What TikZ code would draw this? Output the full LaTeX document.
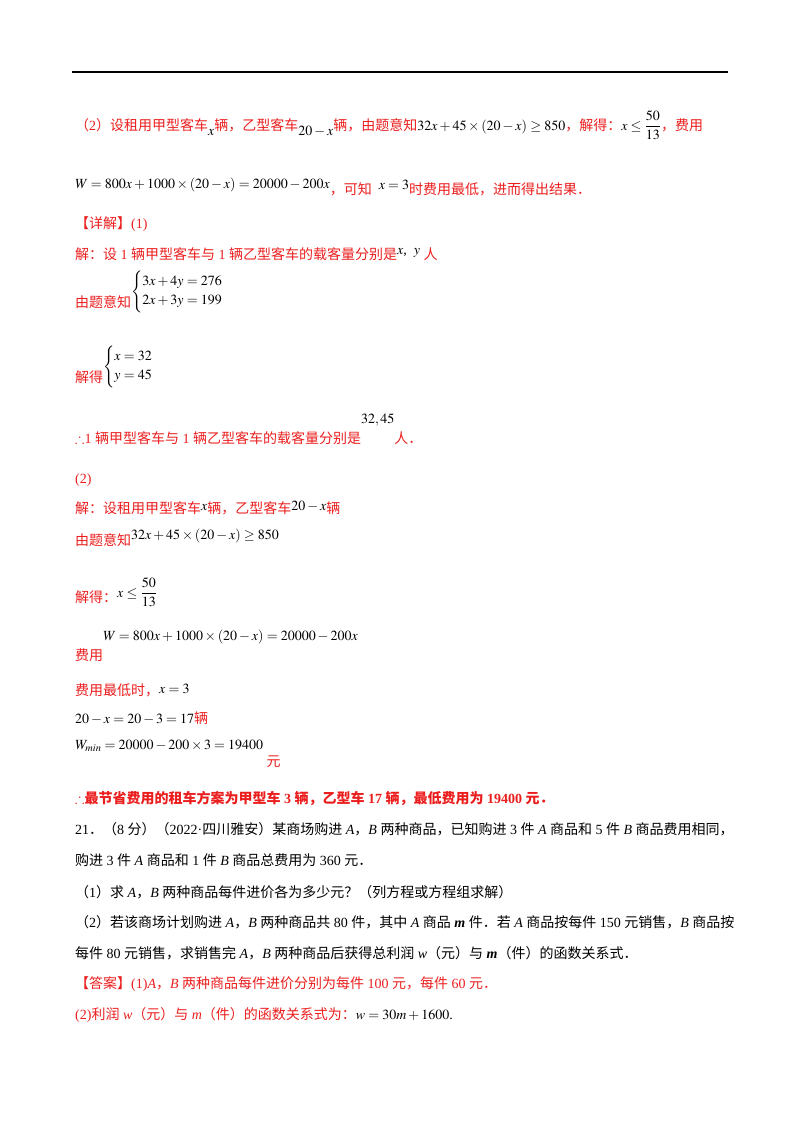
\documentclass[tikz,border=0pt]{standalone}
\usepackage{amsmath,amssymb}
\usepackage{mathptmx}
\usepackage{fontspec}
\setmainfont{Liberation Serif}
\newfontfamily\cjk{Noto Sans CJK SC}
\XeTeXinterchartokenstate=1
\newXeTeXintercharclass\cjkcls
\newXeTeXintercharclass\pctcls
\count255="3000 \loop \XeTeXcharclass\count255=\pctcls \ifnum\count255<"303F \advance\count255 1 \repeat
\count255="4E00 \loop \XeTeXcharclass\count255=\cjkcls \ifnum\count255<"9FFF \advance\count255 1 \repeat
\count255="FF00 \loop \XeTeXcharclass\count255=\pctcls \ifnum\count255<"FFEF \advance\count255 1 \repeat
\XeTeXinterchartoks 0 \cjkcls = {\hskip0.25em\begingroup\cjk}
\XeTeXinterchartoks 4095 \cjkcls = {\begingroup\cjk}
\XeTeXinterchartoks \cjkcls 0 = {\endgroup\hskip0.25em}
\XeTeXinterchartoks \cjkcls 4095 = {\endgroup}
\XeTeXinterchartoks 0 \pctcls = {\begingroup\cjk}
\XeTeXinterchartoks 4095 \pctcls = {\begingroup\cjk}
\XeTeXinterchartoks \pctcls 0 = {\endgroup}
\XeTeXinterchartoks \pctcls 4095 = {\endgroup}
\definecolor{rd}{RGB}{235,30,30}
\newcommand\gsp{\hskip0.25em}
\newcommand\iA{\textit{A}}
\newcommand\iB{\textit{B}}
\tikzset{ln/.style={anchor=base west,inner sep=0pt,font=\fontsize{14}{16}\selectfont}}
\begin{document}
\begin{tikzpicture}[x=1pt,y=-1pt]
\useasboundingbox (0,0) rectangle (800,1132);
\draw[line width=1.5pt] (72,72) coordinate(r1) -- (728,72) coordinate(r2);
\node[ln,text=rd] (l1) at (75,130) {（2）设租用甲型客车\raisebox{-5pt}{\color{black}$x$}辆，乙型客车\raisebox{-5pt}{\color{black}$20-x$}辆，由题意知{\color{black}$32x+45\times\left(20-x\right)\geq 850$}，解得：{\color{black}$x\leq\dfrac{50}{13}$}，费用};
\node[ln] (l2) at (75,188) {$W=800x+1000\times\left(20-x\right)=20000-200x$\raisebox{-6pt}{\color{rd}，可知}\ \ \raisebox{-1pt}{$x=3$}\raisebox{-6pt}{\color{rd}时费用最低，进而得出结果．}};
\node[ln,text=rd] (l3) at (75,228) {【详解】(1)};
\node[ln,text=rd] (l4) at (75,259) {解：设1辆甲型客车与1辆乙型客车的载客量分别是\raisebox{5pt}{\color{black}$x$,\ \ $y$}\ 人};
\node[ln,text=rd] (l5) at (75,307) {由题意知\raisebox{12pt}{\color{black}$\begin{cases}3x+4y=276\\2x+3y=199\end{cases}$}};
\node[ln,text=rd] (l6) at (75,382) {解得\raisebox{12pt}{\color{black}$\begin{cases}x=32\\y=45\end{cases}$}};
\node[ln,text=rd] (l7) at (75,443) {$\therefore$1辆甲型客车与1辆乙型客车的载客量分别是\raisebox{20pt}{\color{black}$32,45$}人．};
\node[ln,text=rd] (l8) at (75,483) {(2)};
\node[ln,text=rd] (l9) at (75,513) {解：设租用甲型客车\raisebox{3pt}{\color{black}$x$}辆，乙型客车\raisebox{3pt}{\color{black}$20-x$}辆};
\node[ln,text=rd] (l10) at (75,545) {由题意知\raisebox{6pt}{\color{black}$32x+45\times\left(20-x\right)\geq 850$}};
\node[ln,text=rd] (l11) at (75,602) {解得：\raisebox{5pt}{\color{black}$x\leq\dfrac{50}{13}$}};
\node[ln,text=rd] (l12) at (75,660) {费用\raisebox{20pt}{\color{black}$W=800x+1000\times\left(20-x\right)=20000-200x$}};
\node[ln,text=rd] (l13) at (75,695) {费用最低时，\raisebox{2pt}{\color{black}$x=3$}};
\node[ln,text=rd] (l14) at (75,723) {{\color{black}$20-x=20-3=17$}辆};
\node[ln,text=rd] (l15) at (75,766) {\raisebox{17pt}{\color{black}$W_{min}=20000-200\times3=19400$}\ 元};
\node[ln,text=rd,font=\fontsize{14}{16}\selectfont\bfseries] (l16) at (75,803) {$\boldsymbol\therefore$最节省费用的租车方案为甲型车3辆，乙型车17辆，最低费用为19400元．};
\node[ln] (l17) at (75,834) {21．（8分）（2022\hbox{·}四川雅安）某商场购进\gsp\iA，\iB\gsp 两种商品，已知购进3件\gsp\iA\gsp 商品和5件\gsp\iB\gsp 商品费用相同，};
\node[ln] (l18) at (75,865) {购进3件\gsp\iA\gsp 商品和1件\gsp\iB\gsp 商品总费用为360元．};
\node[ln] (l19) at (75,897) {（1）求\gsp\iA，\iB\gsp 两种商品每件进价各为多少元？（列方程或方程组求解）};
\node[ln] (l20) at (75,927) {（2）若该商场计划购进\gsp\iA，\iB\gsp 两种商品共80件，其中\gsp\iA\gsp 商品\gsp\textit{\textbf{m}}\gsp 件．若\gsp\iA\gsp 商品按每件150元销售，\iB\gsp 商品按};
\node[ln] (l21) at (75,958) {每件80元销售，求销售完\gsp\iA，\iB\gsp 两种商品后获得总利润\gsp\textit{w}（元）与\gsp\textit{\textbf{m}}（件）的函数关系式．};
\node[ln,text=rd] (l22) at (75,988) {【答案】(1)\iA，\iB\gsp 两种商品每件进价分别为每件100元，每件60元．};
\node[ln,text=rd] (l23) at (75,1019) {\hbox{(2)}利润\gsp\textit{w}（元）与\gsp\textit{m}（件）的函数关系式为：{\color{black}$w=30m+1600$.}};
\end{tikzpicture}
\end{document}
